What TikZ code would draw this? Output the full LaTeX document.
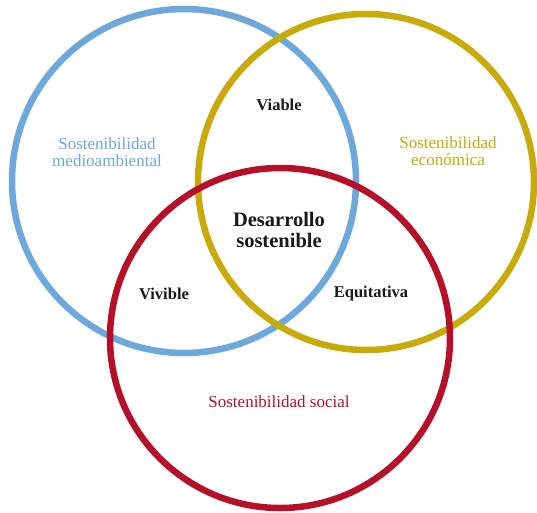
\documentclass[tikz,border=0pt]{standalone}
\usepackage{fontspec}
\setmainfont{Liberation Serif}
\definecolor{envblue}{RGB}{108,168,220}
\definecolor{ecoyellow}{RGB}{200,170,10}
\definecolor{socred}{RGB}{182,16,40}
\begin{document}
\begin{tikzpicture}[x=1pt,y=-1pt,
  ring/.style={line width=6.5pt},
  area/.style={align=center,font=\fontsize{17}{17}\selectfont},
  overlap/.style={align=center,font=\fontsize{16.5}{16}\selectfont\bfseries,text=black!90}]
\useasboundingbox[fill=white] (0,0) rectangle (537,512);
\draw[ring,envblue] (184,181) circle[radius=172pt];
\draw[ring,ecoyellow] (366,182) circle[radius=168pt];
\draw[ring,socred] (280,338) circle[radius=170pt];
\node[area,text=envblue] (env) at (107,152) {Sostenibilidad\\medioambiental};
\node[area,text=ecoyellow] (eco) at (448,151) {Sostenibilidad\\económica};
\node[area,text=socred] (soc) at (279,402) {Sostenibilidad social};
\node[overlap] (viable) at (279,105) {Viable};
\node[overlap] (vivible) at (164,294) {Vivible};
\node[overlap] (equit) at (371,294) {Equitativa};
\node[align=center,font=\fontsize{20.5}{20.5}\selectfont\bfseries,text=black!90] (des) at (279,230) {Desarrollo\\sostenible};
\end{tikzpicture}
\end{document}
